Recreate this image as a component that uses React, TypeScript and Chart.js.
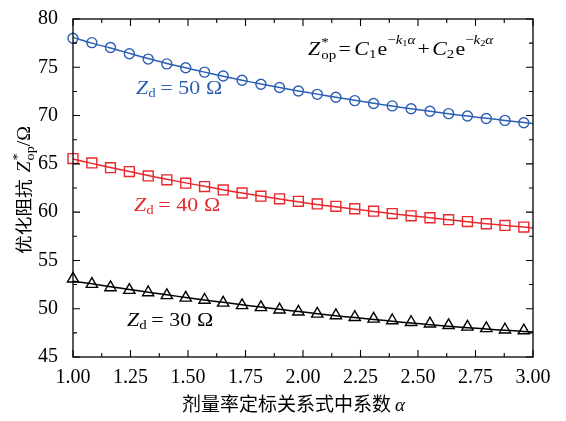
import React, { useEffect, useRef } from "react";
import { Chart, registerables } from "chart.js";

Chart.register(...registerables);

const ALPHA = [1.0, 1.082, 1.163, 1.245, 1.327, 1.408, 1.49, 1.572, 1.653, 1.735, 1.817, 1.898, 1.98, 2.062, 2.143, 2.225, 2.307, 2.388, 2.47, 2.552, 2.633, 2.715, 2.797, 2.878, 2.96];
const FIT_ALPHA = [1.0, 1.082, 1.163, 1.245, 1.327, 1.408, 1.49, 1.572, 1.653, 1.735, 1.817, 1.898, 1.98, 2.062, 2.143, 2.225, 2.307, 2.388, 2.47, 2.552, 2.633, 2.715, 2.797, 2.878, 2.96, 3.0];

const Z50 = [78.0, 77.55, 77.05, 76.4, 75.85, 75.35, 74.95, 74.5, 74.1, 73.65, 73.25, 72.9, 72.55, 72.2, 71.9, 71.55, 71.25, 71.0, 70.7, 70.45, 70.2, 69.95, 69.7, 69.5, 69.25];
const Z40 = [65.55, 65.1, 64.6, 64.2, 63.75, 63.35, 63.0, 62.65, 62.3, 61.98, 61.65, 61.38, 61.12, 60.85, 60.6, 60.35, 60.1, 59.85, 59.62, 59.42, 59.22, 59.02, 58.8, 58.62, 58.45];
const Z30 = [53.1, 52.55, 52.2, 51.93, 51.68, 51.38, 51.12, 50.9, 50.6, 50.35, 50.14, 49.9, 49.68, 49.47, 49.3, 49.12, 48.95, 48.78, 48.6, 48.45, 48.28, 48.12, 47.96, 47.82, 47.74];

const FIT50 = [78.1, 77.5, 77.0, 76.45, 75.9, 75.4, 74.95, 74.5, 74.08, 73.66, 73.27, 72.9, 72.55, 72.22, 71.9, 71.58, 71.27, 70.98, 70.7, 70.44, 70.19, 69.95, 69.72, 69.5, 69.28, 69.18];
const FIT40 = [65.5, 65.05, 64.62, 64.2, 63.8, 63.4, 63.03, 62.67, 62.32, 61.98, 61.66, 61.36, 61.07, 60.8, 60.55, 60.3, 60.07, 59.84, 59.62, 59.41, 59.2, 59.0, 58.81, 58.63, 58.46, 58.37];
const FIT30 = [52.85, 52.58, 52.28, 51.99, 51.71, 51.44, 51.17, 50.91, 50.66, 50.41, 50.17, 49.94, 49.71, 49.49, 49.28, 49.08, 48.89, 48.7, 48.52, 48.35, 48.19, 48.04, 47.9, 47.77, 47.65, 47.6];

const X_TICKS = [1.0, 1.25, 1.5, 1.75, 2.0, 2.25, 2.5, 2.75, 3.0];
const Y_TICKS = [45, 50, 55, 60, 65, 70, 75, 80];

const BLUE = "#2b5fb4";
const RED = "#e8282c";
const BLACK = "#000000";
const SERIF = "'Liberation Serif', 'DejaVu Serif', serif";
const CJK = "'Noto Sans CJK SC', sans-serif";

type Run = { t: string; it?: boolean; sz: number; dy?: number; fam?: string; stay?: boolean; pre?: number };

function runFont(r: Run) {
  return `${r.it ? "italic " : ""}${r.sz}px ${r.fam || SERIF}`;
}

function layoutRuns(ctx: CanvasRenderingContext2D, runs: Run[], draw: boolean) {
  let cx = 0;
  let stayW = 0;
  for (const r of runs) {
    ctx.font = runFont(r);
    cx += r.pre || 0;
    if (draw) ctx.fillText(r.t, cx, r.dy || 0);
    const m = ctx.measureText(r.t).width;
    if (r.stay) {
      stayW = m;
    } else {
      cx += Math.max(m, stayW);
      stayW = 0;
    }
  }
  return cx;
}

function drawRuns(ctx: CanvasRenderingContext2D, x: number, y: number, runs: Run[], color: string, sx: number, centered = false) {
  ctx.save();
  ctx.fillStyle = color;
  ctx.textBaseline = "alphabetic";
  ctx.textAlign = "left";
  const w = layoutRuns(ctx, runs, false);
  ctx.translate(centered ? x - (w * sx) / 2 : x, y);
  ctx.scale(sx, 1);
  layoutRuns(ctx, runs, true);
  ctx.restore();
}

const decorPlugin = {
  id: "decor",
  afterDatasetsDraw(chart: any) {
    const ctx: CanvasRenderingContext2D = chart.ctx;
    const { left, right, top, bottom } = chart.chartArea;
    const xs = chart.scales.x;
    const ys = chart.scales.y;
    ctx.save();
    ctx.strokeStyle = "#000";
    ctx.lineWidth = 1.3;
    ctx.strokeRect(left, top, right - left, bottom - top);
    ctx.lineWidth = 1.1;
    ctx.beginPath();
    for (let i = 0; i < X_TICKS.length; i++) {
      const px = xs.getPixelForValue(X_TICKS[i]);
      ctx.moveTo(px, bottom); ctx.lineTo(px, bottom - 7);
      ctx.moveTo(px, top); ctx.lineTo(px, top + 7);
      if (i < X_TICKS.length - 1) {
        const mx = xs.getPixelForValue((X_TICKS[i] + X_TICKS[i + 1]) / 2);
        ctx.moveTo(mx, bottom); ctx.lineTo(mx, bottom - 4);
        ctx.moveTo(mx, top); ctx.lineTo(mx, top + 4);
      }
    }
    for (let i = 0; i < Y_TICKS.length; i++) {
      const py = ys.getPixelForValue(Y_TICKS[i]);
      ctx.moveTo(left, py); ctx.lineTo(left + 7, py);
      ctx.moveTo(right, py); ctx.lineTo(right - 7, py);
      if (i < Y_TICKS.length - 1) {
        const my = ys.getPixelForValue((Y_TICKS[i] + Y_TICKS[i + 1]) / 2);
        ctx.moveTo(left, my); ctx.lineTo(left + 4, my);
        ctx.moveTo(right, my); ctx.lineTo(right - 4, my);
      }
    }
    ctx.stroke();

    const SX = 1.15;
    // annotations
    const lab = (v: string): Run[] => [
      { t: "Z", it: true, sz: 19 },
      { t: "d", sz: 13, dy: 3 },
      { t: "=", sz: 19, pre: 4 },
      { t: v, sz: 19, pre: 5 },
      { t: "Ω", sz: 19, pre: 5 },
    ];
    drawRuns(ctx, 136, 94, lab("50"), BLUE, SX);
    drawRuns(ctx, 134, 211, lab("40"), RED, SX);
    drawRuns(ctx, 127, 326, lab("30"), BLACK, SX);

    const formula: Run[] = [
      { t: "Z", it: true, sz: 19 },
      { t: "*", sz: 13, dy: -9, stay: true, pre: 1 },
      { t: "op", sz: 13, dy: 4 },
      { t: "=", sz: 19, pre: 2 },
      { t: "C", it: true, sz: 19, pre: 3 },
      { t: "1", sz: 13, dy: 3 },
      { t: "e", sz: 19, pre: 1 },
      { t: "−", sz: 13, dy: -11 },
      { t: "k", it: true, sz: 13, dy: -11 },
      { t: "1", sz: 9, dy: -9 },
      { t: "α", it: true, sz: 13, dy: -11 },
      { t: "+", sz: 19, pre: 2 },
      { t: "C", it: true, sz: 19, pre: 2 },
      { t: "2", sz: 13, dy: 3 },
      { t: "e", sz: 19, pre: 1 },
      { t: "−", sz: 13, dy: -11 },
      { t: "k", it: true, sz: 13, dy: -11 },
      { t: "2", sz: 9, dy: -9 },
      { t: "α", it: true, sz: 13, dy: -11 },
    ];
    drawRuns(ctx, 308, 55, formula, BLACK, SX);

    // x title
    const xt: Run[] = [
      { t: "剂量率定标关系式中系数", sz: 19, fam: CJK },
      { t: "α", it: true, sz: 19, pre: 4 },
    ];
    drawRuns(ctx, 182, 411, xt, BLACK, 1.0);

    // y title
    const yt: Run[] = [
      { t: "优化阻抗", sz: 17, fam: CJK },
      { t: "Z", it: true, sz: 18, pre: 6 },
      { t: "*", sz: 13, dy: -9, stay: true, pre: 1 },
      { t: "op", sz: 13, dy: 4 },
      { t: "/Ω", sz: 18 },
    ];
    ctx.save();
    ctx.translate(30, 190);
    ctx.rotate(-Math.PI / 2);
    drawRuns(ctx, 0, 0, yt, BLACK, 1.1, true);
    ctx.restore();
    ctx.restore();
  },
};

export default function App() {
  const ref = useRef<HTMLCanvasElement | null>(null);
  useEffect(() => {
    if (!ref.current) return;
    const pts = (xs: number[], ys: number[]) => ys.map((y, i) => ({ x: xs[i], y }));
    const fit = (d: number[], c: string) => ({
      data: pts(FIT_ALPHA, d),
      borderColor: c,
      borderWidth: 1.5,
      pointRadius: 0,
      fill: false,
      tension: 0.3,
      clip: false as any,
    });
    const mk = (d: number[], c: string, style: string, r: number) => ({
      data: pts(ALPHA, d),
      borderColor: c,
      showLine: false,
      pointStyle: style,
      pointRadius: r,
      pointBorderWidth: 1.4,
      pointBorderColor: c,
      pointBackgroundColor: "#ffffff",
      clip: false as any,
    });
    const chart = new Chart(ref.current, {
      type: "line",
      data: {
        datasets: [
          fit(FIT50, BLUE),
          fit(FIT40, RED),
          fit(FIT30, BLACK),
          mk(Z50, BLUE, "circle", 5),
          mk(Z40, RED, "rect", 7),
          mk(Z30, BLACK, "triangle", 6.5),
        ] as any,
      },
      options: {
        animation: false,
        responsive: false,
        maintainAspectRatio: false,
        layout: { padding: { left: 0, top: 15, right: 33, bottom: 0 } },
        plugins: { legend: { display: false }, tooltip: { enabled: false } },
        scales: {
          x: {
            type: "linear",
            min: 1,
            max: 3,
            grid: { display: false },
            border: { display: false },
            ticks: {
              stepSize: 0.25,
              autoSkip: false,
              maxRotation: 0,
              padding: 1,
              color: "#000",
              font: { family: SERIF, size: 20 },
              callback: (v: any) => Number(v).toFixed(2),
            },
            afterFit: (s: any) => { s.height = 64; },
          },
          y: {
            type: "linear",
            min: 45,
            max: 80,
            grid: { display: false },
            border: { display: false },
            ticks: {
              stepSize: 5,
              padding: 7,
              color: "#000",
              font: { family: SERIF, size: 20 },
            },
            afterFit: (s: any) => { s.width = 73; },
          },
        },
      } as any,
      plugins: [decorPlugin],
    });
    return () => chart.destroy();
  }, []);
  return (
    <div style={{ position: "fixed", left: 0, top: 0, width: 566, height: 421, background: "#fff" }}>
      <canvas ref={ref} width={566} height={421} style={{ width: 566, height: 421, display: "block" }} />
    </div>
  );
}
